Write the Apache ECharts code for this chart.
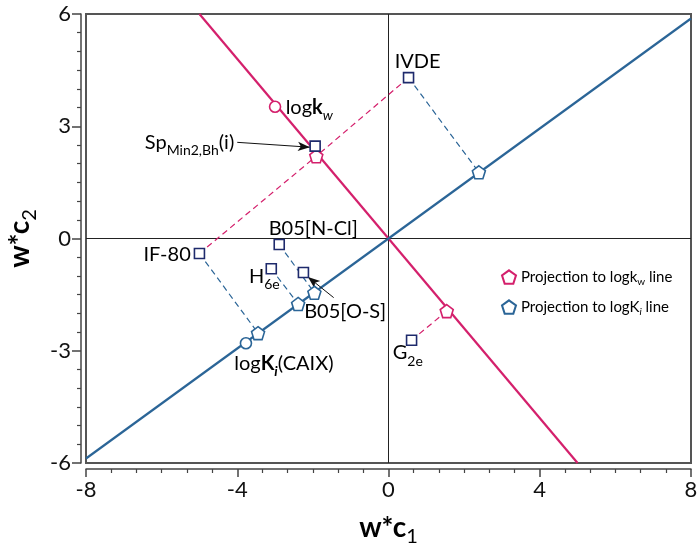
<!DOCTYPE html>
<html>
<head>
<meta charset="utf-8">
<script src="https://cdn.jsdelivr.net/npm/echarts@6/dist/echarts.min.js"></script>
<style>
html,body{margin:0;padding:0;background:#fff;}
#c{width:700px;height:553px;}
</style>
</head>
<body>
<div id="c"></div>
<script>
// ---- data ----
const xTickValues = [-8, -4, 0, 4, 8];
const yTickValues = [-6, -3, 0, 3, 6];
const redLine = [[-5, 6], [5, -6]];
const blueLine = [[-8, -5.88], [8, 5.88]];
const squareNames = ['IVDE', 'Sp', 'IF-80', 'B05[N-Cl]', 'H6e', 'B05[O-S]', 'G2e'];
const squareX = [0.53, -1.94, -5.0, -2.89, -3.1, -2.25, 0.61];
const squareY = [4.3, 2.47, -0.4, -0.16, -0.81, -0.91, -2.72];
const redProjX = [-1.91, 1.54];
const redProjY = [2.2, -1.94];
const blueProjX = [2.39, -1.96, -2.39, -3.45];
const blueProjY = [1.77, -1.45, -1.75, -2.53];
const logkwPoint = [-3.0, 3.52];
const caixPoint = [-3.77, -2.8];
// dashed projection segments: [fromSquareIndex, toProjectionIndex]
const redDashPairs = [[2, 0], [0, 0], [6, 1]];
const blueDashPairs = [[0, 0], [3, 1], [4, 2], [2, 3]];
// annotation text: [x, y, text, align]
const annotations = [
  [0.77, 4.72, 'IVDE', 'center'],
  [-2.72, 3.49, 'log{b|k}{si|w}', 'left'],
  [-4.08, 2.57, 'Sp{s|Min2,Bh}(i)', 'right'],
  [-1.99, 0.27, 'B05[N-Cl]', 'center'],
  [-5.23, -0.43, 'IF-80', 'right'],
  [-3.69, -1.02, 'H{s|6e}', 'left'],
  [-2.23, -1.95, 'B05[O-S]', 'left'],
  [-4.08, -3.35, 'log{b|K}{bi|i}(CAIX)', 'left'],
  [0.11, -3.06, 'G{s|2e}', 'left']
];
// arrows: [fromX, fromY, toX, toY]
const arrows = [
  [-4.0, 2.57, -2.08, 2.44],
  [-1.45, -1.58, -2.13, -1.03]
];

// ---- styles ----
const RED = '#d4206c';
const BLUE = '#2b6597';
const NAVY = '#1e2a6c';
const FONT = 'Lato';
const TXT = '#000';
const pentagon = 'path://M0,-10L9.51,-3.09L5.88,8.09L-5.88,8.09L-9.51,-3.09Z';

const squares = squareX.map((x, i) => [x, squareY[i]]);
const redProj = redProjX.map((x, i) => [x, redProjY[i]]);
const blueProj = blueProjX.map((x, i) => [x, blueProjY[i]]);

const annRich = {
  b: {fontFamily: FONT, fontSize: 20, fontWeight: 'bold', color: TXT, lineHeight: 30, verticalAlign: 'middle'},
  s: {fontFamily: FONT, fontSize: 14, color: TXT, lineHeight: 30, verticalAlign: 'bottom'},
  si: {fontFamily: FONT, fontSize: 14, fontStyle: 'italic', color: TXT, lineHeight: 30, verticalAlign: 'bottom'},
  bi: {fontFamily: FONT, fontSize: 14, fontStyle: 'italic', fontWeight: 'bold', color: TXT, lineHeight: 30, verticalAlign: 'bottom'}
};

const series = [];
function seg(data, color, width, type, z) {
  series.push({
    type: 'line', data: data, symbol: 'none', silent: true, z: z,
    lineStyle: {color: color, width: width, type: type, opacity: 1}, animation: false
  });
}
seg([[-8, 0], [8, 0]], '#222', 1, 'solid', 1);
seg([[0, -6], [0, 6]], '#222', 1, 'solid', 1);
redDashPairs.forEach(p => seg([squares[p[0]], redProj[p[1]]], RED, 1.2, [6, 4], 2));
blueDashPairs.forEach(p => seg([squares[p[0]], blueProj[p[1]]], BLUE, 1.2, [6, 4], 2));
seg(redLine, RED, 2.2, 'solid', 3);
seg(blueLine, BLUE, 2.2, 'solid', 3);

// arrows
series.push({
  type: 'line', data: [], silent: true, z: 4, animation: false,
  markLine: {
    silent: true, symbol: ['none', 'arrow'], symbolSize: [7, 12],
    label: {show: false},
    lineStyle: {color: '#111', width: 1, type: 'solid', opacity: 1},
    data: arrows.map(a => [{coord: [a[0], a[1]]}, {coord: [a[2], a[3]]}])
  }
});

function markerStyle(c) {
  return {color: '#fff', borderColor: c, borderWidth: 1.6, opacity: 1};
}
series.push({
  name: 'Projection to logk_w line', type: 'scatter', data: redProj, z: 6,
  symbol: pentagon, symbolSize: 13, itemStyle: markerStyle(RED), animation: false
});
series.push({
  name: 'Projection to logK_i line', type: 'scatter', data: blueProj, z: 6,
  symbol: pentagon, symbolSize: 13, itemStyle: markerStyle(BLUE), animation: false
});
series.push({
  type: 'scatter', data: [logkwPoint], z: 6, symbol: 'circle', symbolSize: 11,
  itemStyle: markerStyle(RED), animation: false
});
series.push({
  type: 'scatter', data: [caixPoint], z: 6, symbol: 'circle', symbolSize: 11,
  itemStyle: markerStyle(BLUE), animation: false
});
series.push({
  type: 'scatter', data: squares, z: 7, symbol: 'rect', symbolSize: 10,
  itemStyle: markerStyle(NAVY), animation: false
});
// text annotations
series.push({
  type: 'scatter', symbol: 'circle', symbolSize: 1, silent: true, z: 8, animation: false,
  itemStyle: {color: 'rgba(0,0,0,0)', opacity: 1},
  labelLayout: {hideOverlap: false},
  data: annotations.map(a => ({
    value: [a[0], a[1]],
    label: {
      show: true, position: 'inside', align: a[3], verticalAlign: 'middle',
      formatter: a[2], fontFamily: FONT, fontSize: 20, color: TXT, opacity: 1, lineHeight: 30,
      rich: annRich
    }
  }))
});

const axisCommon = {
  type: 'value',
  splitLine: {show: false},
  axisLine: {show: true, onZero: false, lineStyle: {color: '#444', width: 1.5}},
  axisLabel: {fontFamily: FONT, fontSize: 22, color: '#111', margin: 10},
  minorTick: {show: true, splitNumber: 6, length: 4, lineStyle: {color: '#444', width: 1.2}},
  nameTextStyle: {
    rich: {
      n: {fontFamily: FONT, fontSize: 28, fontWeight: 'bold', color: TXT, lineHeight: 38, verticalAlign: 'middle'},
      s: {fontFamily: FONT, fontSize: 20, color: TXT, lineHeight: 38, verticalAlign: 'bottom'}
    }
  }
};

const option = {
  backgroundColor: '#fff',
  animation: false,
  grid: {
    left: 86, right: 9, top: 14, bottom: 90, show: true,
    outerBoundsMode: 'none', containLabel: false,
    borderColor: '#555', borderWidth: 2, backgroundColor: 'transparent'
  },
  xAxis: Object.assign({}, axisCommon, {
    min: xTickValues[0], max: xTickValues[xTickValues.length - 1], interval: 4,
    position: 'bottom', offset: 6,
    axisTick: {show: true, inside: false, length: 8, lineStyle: {color: '#444', width: 1.5}},
    name: '{n|w*c}{s|1}', nameLocation: 'middle', nameGap: 40
  }),
  yAxis: Object.assign({}, axisCommon, {
    min: yTickValues[0], max: yTickValues[yTickValues.length - 1], interval: 3,
    position: 'left', offset: 5,
    axisTick: {show: true, inside: false, length: 9, lineStyle: {color: '#444', width: 1.5}},
    name: '{n|w*c}{s|2}', nameLocation: 'middle', nameGap: 32, nameRotate: 90
  }),
  legend: {
    data: ['Projection to logk_w line', 'Projection to logK_i line'],
    orient: 'vertical', left: 496, top: 262, itemWidth: 14, itemHeight: 14, itemGap: 10,
    icon: pentagon,
    formatter: function (name) {
      return name === 'Projection to logk_w line'
        ? 'Projection to logk{s|w} line' : 'Projection to logK{si|i} line';
    },
    textStyle: {
      fontFamily: FONT, fontSize: 15, color: TXT, lineHeight: 20,
      rich: {
        s: {fontFamily: FONT, fontSize: 10, color: TXT, lineHeight: 20, verticalAlign: 'bottom'},
        si: {fontFamily: FONT, fontSize: 10, fontStyle: 'italic', color: TXT, lineHeight: 20, verticalAlign: 'bottom'}
      }
    }
  },
  series: series
};

const chart = echarts.init(document.getElementById('c'), null, {renderer: 'canvas'});
chart.setOption(option);
</script>
</body>
</html>
